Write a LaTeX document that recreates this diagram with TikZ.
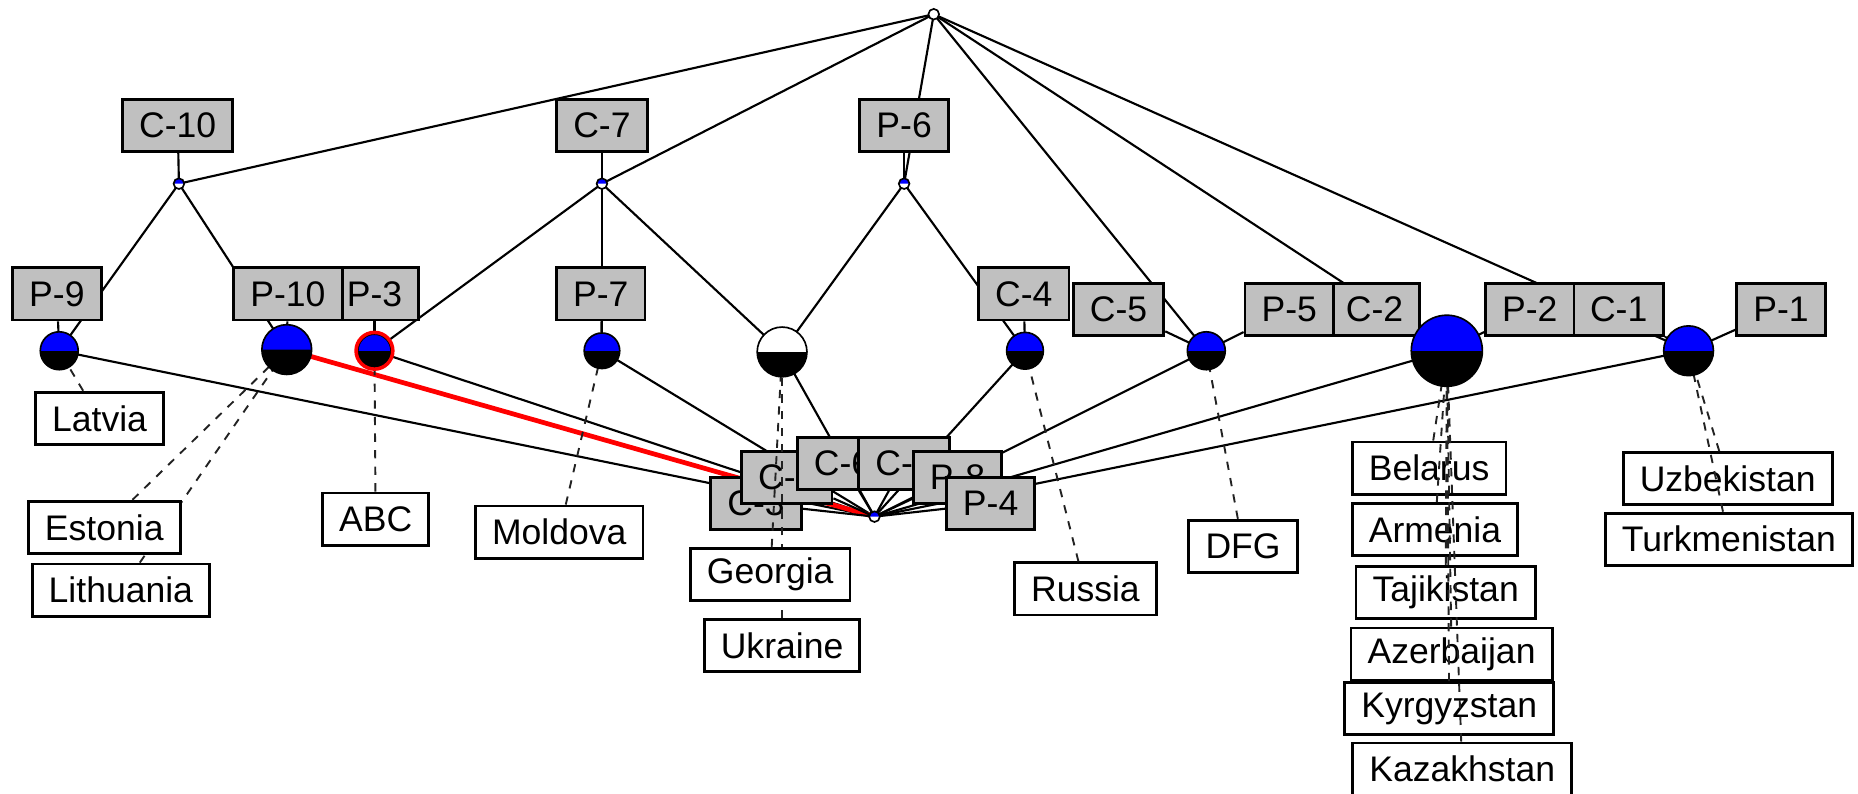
\documentclass[tikz,border=0pt]{standalone}
\usepackage{fontspec}
\setmainfont{Liberation Sans}
\usepackage{xcolor}
\definecolor{NodeBlue}{HTML}{0000FF}
\definecolor{LabelGray}{HTML}{C0C0C0}
\definecolor{PathRed}{HTML}{FF0000}
\definecolor{DashGray}{HTML}{222222}

\tikzset{
  attrbox/.style={draw=black, line width=1.2pt, fill=LabelGray, inner xsep=7pt, inner ysep=0pt,
                  minimum height=22pt, font=\fontsize{15}{18}\selectfont},
  objbox/.style={attrbox, fill=white},
  latline/.style={line width=0.9pt, black},
  redline/.style={line width=2pt, PathRed},
  attrline/.style={line width=0.9pt, black},
  objline/.style={line width=0.8pt, DashGray, dash pattern=on 3.5pt off 3.5pt},
}

% concept disc: name, radius, upper colour, lower colour
\newcommand{\latdisc}[4]{%
  \fill[#4] (#1) circle[radius=#2];
  \fill[#3] (#1) ++(-#2,0) arc[start angle=180, end angle=360, radius=#2] -- cycle;
  \draw[line width=0.7pt] (#1) circle[radius=#2];
}
% grey attribute label: name, x, y, concept, text
\newcommand{\attrlabel}[5]{%
  \node[attrbox] (#1) at (#2,#3) {#5};
  \draw[attrline] (#1) -- (#4);
}
% white object label: name, x, y, concept, text
\newcommand{\objlabel}[5]{%
  \node[objbox] (#1) at (#2,#3) {#5};
  \draw[objline] (#1) -- (#4);
}

\begin{document}
\begin{tikzpicture}[x=0.5pt, y=-0.5pt]
\useasboundingbox (0,0) rectangle (1568,670);

% --- CONCEPTS ---
\coordinate (top) at (788,12);
\coordinate (c10) at (151,155);
\coordinate (c7) at (508,155);
\coordinate (p6) at (763,155);
\coordinate (p9) at (50,296);
\coordinate (p10) at (242,295);
\coordinate (p3) at (316,296);
\coordinate (p7) at (508,296);
\coordinate (gu) at (660,297);
\coordinate (c4) at (865,296);
\coordinate (c5) at (1018,296);
\coordinate (c2) at (1221,296);
\coordinate (c1) at (1425,296);
\coordinate (bot) at (738,436);

% --- LATTICE EDGES ---
\draw[latline] (top) -- (c10);
\draw[latline] (top) -- (c7);
\draw[latline] (top) -- (p6);
\draw[latline] (top) -- (c5);
\draw[latline] (top) -- (c2);
\draw[latline] (top) -- (c1);
\draw[latline] (c10) -- (p9);
\draw[latline] (c10) -- (p10);
\draw[latline] (c7) -- (p3);
\draw[latline] (c7) -- (p7);
\draw[latline] (c7) -- (gu);
\draw[latline] (p6) -- (gu);
\draw[latline] (p6) -- (c4);
\draw[latline] (p9) -- (bot);
\draw[latline] (p3) -- (bot);
\draw[latline] (p7) -- (bot);
\draw[latline] (gu) -- (bot);
\draw[latline] (c4) -- (bot);
\draw[latline] (c5) -- (bot);
\draw[latline] (c2) -- (bot);
\draw[latline] (c1) -- (bot);
\draw[redline] (p10) -- (bot);

% --- ATTRIBUTE LABELS ---
\attrlabel{lC10}{150}{106}{c10}{C-10}
\attrlabel{lC7}{508}{106}{c7}{C-7}
\attrlabel{lP6}{763}{106}{p6}{P-6}
\attrlabel{lP9}{48}{248}{p9}{P-9}
\attrlabel{lP3}{316}{248}{p3}{P-3}
\attrlabel{lP10}{243}{248}{p10}{P-10}
\attrlabel{lP7}{507}{248}{p7}{P-7}
\attrlabel{lC4}{864}{248}{c4}{C-4}
\attrlabel{lC5}{944}{261}{c5}{C-5}
\attrlabel{lC2}{1160}{261}{c2}{C-2}
\attrlabel{lP5}{1088}{261}{c5}{P-5}
\attrlabel{lC1}{1366}{261}{c1}{C-1}
\attrlabel{lP2}{1291}{261}{c2}{P-2}
\attrlabel{lP1}{1503}{261}{c1}{P-1}
% bottom cluster
\attrlabel{lC3}{638}{425}{bot}{C-3}
\attrlabel{lC8}{664}{403}{bot}{C-8}
\attrlabel{lC6}{711}{391}{bot}{C-6}
\attrlabel{lC9}{763}{391}{bot}{C-9}
\attrlabel{lP8}{808}{403}{bot}{P-8}
\attrlabel{lP4}{836}{425}{bot}{P-4}

% --- OBJECT LABELS ---
\objlabel{oLatvia}{84}{353}{p9}{Latvia}
\objlabel{oLithuania}{102}{498}{p10}{Lithuania}
\objlabel{oEstonia}{88}{445}{p10}{Estonia}
\objlabel{oABC}{317}{438}{p3}{ABC}
\objlabel{oMoldova}{472}{449}{p7}{Moldova}
\objlabel{oUkraine}{660}{545}{gu}{Ukraine}
\objlabel{oGeorgia}{650}{485}{gu}{Georgia}
\objlabel{oRussia}{916}{497}{c4}{Russia}
\objlabel{oDFG}{1049}{461}{c5}{DFG}
\objlabel{oBelarus}{1206}{395}{c2}{Belarus}
\objlabel{oArmenia}{1211}{447}{c2}{Armenia}
\objlabel{oTajikistan}{1220}{500}{c2}{Tajikistan}
\objlabel{oAzerbaijan}{1225}{552}{c2}{Azerbaijan}
\objlabel{oKyrgyzstan}{1223}{598}{c2}{Kyrgyzstan}
\objlabel{oKazakhstan}{1234}{649}{c2}{Kazakhstan}
\objlabel{oUzbekistan}{1458}{404}{c1}{Uzbekistan}
\objlabel{oTurkmenistan}{1459}{455}{c1}{Turkmenistan}

% --- CONCEPT DISCS ---
\latdisc{top}{4.5}{white}{white}
\latdisc{c10}{4.5}{NodeBlue}{white}
\latdisc{c7}{4.5}{NodeBlue}{white}
\latdisc{p6}{4.5}{NodeBlue}{white}
\latdisc{p9}{16}{NodeBlue}{black}
\latdisc{p10}{21}{NodeBlue}{black}
\latdisc{p3}{14}{NodeBlue}{black}
\draw[PathRed, line width=1.5pt] (p3) circle[radius=15.5];
\latdisc{p7}{15}{NodeBlue}{black}
\latdisc{gu}{21}{white}{black}
\latdisc{c4}{15.5}{NodeBlue}{black}
\latdisc{c5}{16}{NodeBlue}{black}
\latdisc{c2}{30}{NodeBlue}{black}
\latdisc{c1}{21}{NodeBlue}{black}
\latdisc{bot}{4.5}{NodeBlue}{white}

\end{tikzpicture}
\end{document}
